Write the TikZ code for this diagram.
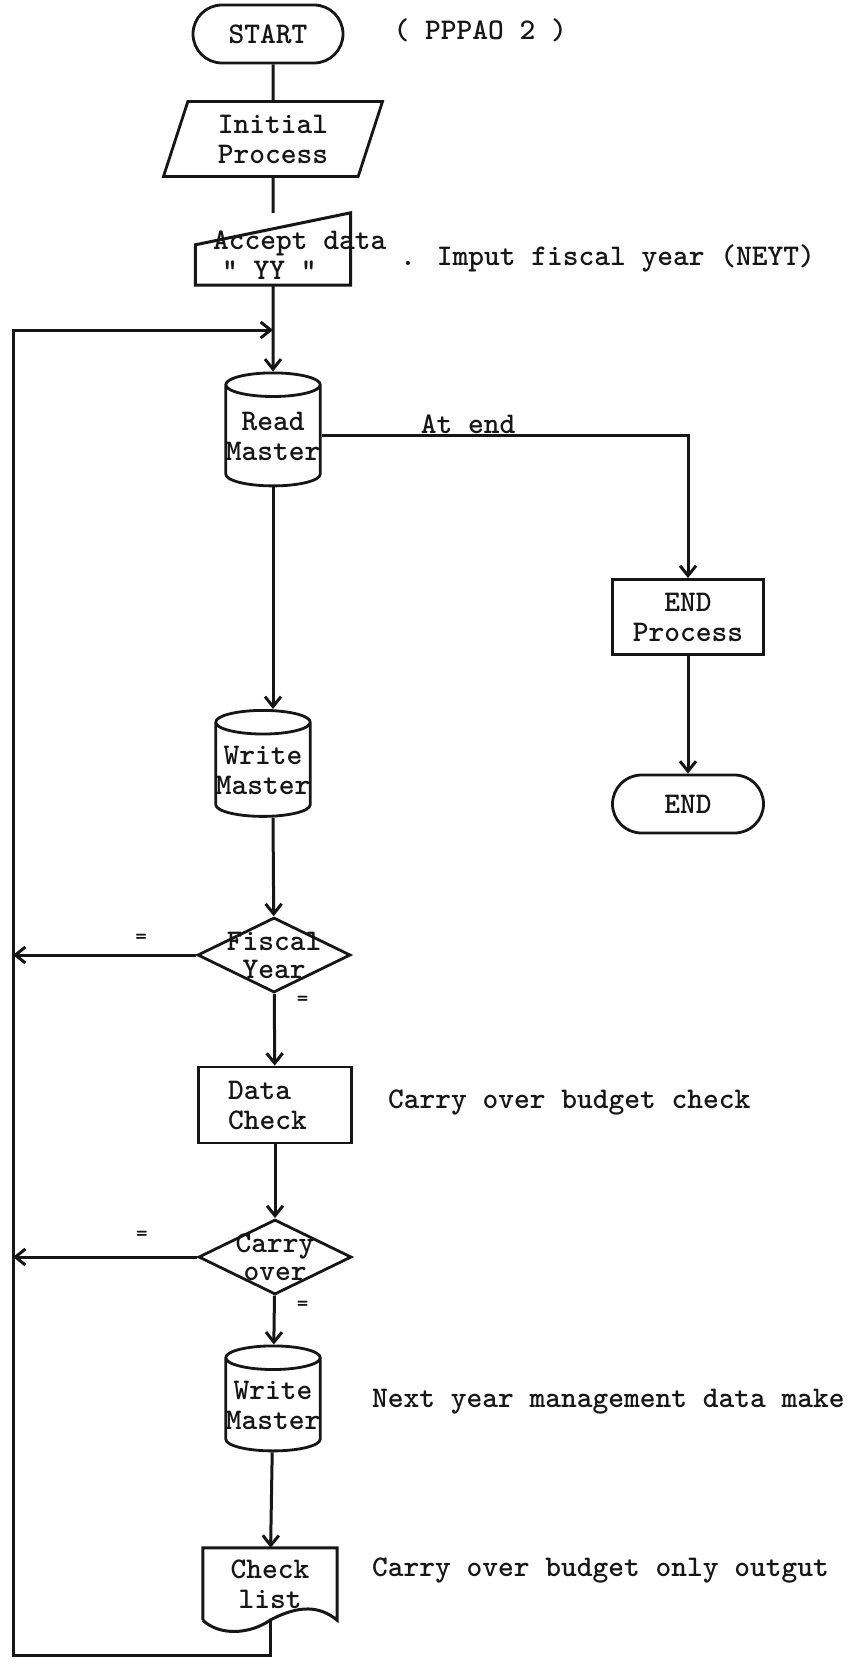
\documentclass[tikz,border=0pt]{standalone}
\usetikzlibrary{positioning,calc,shapes.geometric,arrows.meta}
\definecolor{Ink}{HTML}{161616}

\begin{document}
\begin{tikzpicture}[x=1pt,y=-1pt,
    font=\fontsize{30}{30}\selectfont\ttfamily\bfseries,
    every node/.style={text=Ink},
    box/.style={draw=Ink,line width=2.8pt,inner sep=0pt,align=center},
    terminal/.style={box,rounded corners=29pt,minimum width=150pt,minimum height=58pt},
    io/.style={box,trapezium,trapezium left angle=72,trapezium right angle=108,minimum width=155pt,minimum height=75pt},
    disk/.style={box,cylinder,shape border rotate=90,aspect=0.25,minimum width=91pt},
    proc/.style={box,rectangle,minimum width=153pt,minimum height=76pt},
    decision/.style={box,diamond,minimum width=153pt,minimum height=75pt},
    wire/.style={draw=Ink,line width=3pt},
    flow/.style={wire,-{Straight Barb[length=10pt,width=16pt]}},
    eq/.style={font=\fontsize{22}{22}\selectfont\ttfamily\bfseries,inner sep=0pt}]
  \useasboundingbox[fill=white] (0,0) rectangle (857,1667);

  % main column
  \node[terminal] (start) at (268,34) {START};
  \node[anchor=west] (tag) at (390,30) {( PPPAO 2 )};
  \node[io] (init) at (273,139) {Initial\\Process};
  \node[inner sep=0pt,minimum width=155pt,minimum height=72pt] (accept) at (273,249) {};
  \draw[wire] (accept.south west) -- (accept.south east) -- (accept.north east)
    -- ([yshift=-32pt]accept.north west) -- cycle;
  \node[anchor=west,align=left,inner sep=0pt] (accepttxt) at (213,255) {Accept data\\\hspace*{9pt}" YY "};
  \node[anchor=west,inner sep=0pt] (acceptnote) at (400,258) {. Imput fiscal year (NEYT)};

  \node[disk,minimum height=113pt] (read) at (273,436) {Read\\Master};
  \node[disk,minimum height=106pt] (write) at (263,770) {Write\\Master};
  \node[decision,label={[align=center]center:{Fiscal\\[-2pt]Year}}] (fiscal) at (274,955) {};
  \node[proc,text width=94pt,align=left] (datachk) at (275,1105) {Data\\Check};
  \node[anchor=west,inner sep=0pt] (datanote) at (388,1103) {Carry over budget check};
  \node[decision,label={[align=center]center:{Carry\\[-2pt]over}}] (carry) at (275,1257) {};
  \node[disk,minimum height=105pt] (write2) at (273,1405) {Write\\Master};
  \node[anchor=west,inner sep=0pt] (writenote) at (372,1402) {Next year management data make};
  \node[inner sep=0pt,align=center,minimum width=134pt,minimum height=72pt] (list) at (270,1584) {Check\\list};
  \draw[wire] (list.south west) -- (list.north west) -- (list.north east) -- (list.south east)
    .. controls +(-17,-14) and +(30,-16) .. (list.south)
    .. controls +(-20,14) and +(17,16) .. (list.south west);
  \node[anchor=west,inner sep=0pt] (listnote) at (372,1570) {Carry over budget only outgut};

  % end branch
  \node[proc,minimum width=151pt,minimum height=75pt] (endproc) at (688,617) {END\\Process};
  \node[terminal,minimum width=151pt] (endterm) at (688,804) {END};

  % loop back
  \coordinate (loopbot) at (13,1655);
  \coordinate (looptop) at (13,330);
  \coordinate (entry) at (273,330);

  \draw[wire] (init |- start.south) -- (init);
  \draw[wire] (init) -- (accept);
  \draw[flow] (accept) -- (read);
  \draw[flow] (read.east) -| node[pos=0.2,above,inner sep=1pt] {At end} (endproc);
  \draw[flow] (endproc) -- (endterm);
  \draw[flow] (read) -- (read |- write.north);
  \draw[flow] (read |- write.south) -- (fiscal);
  \draw[flow] (fiscal.west) -- node[pos=0.3,above=10pt,eq] {=} (fiscal.west -| loopbot);
  \draw[flow] (fiscal) -- node[pos=0.1,right=21pt,eq] {=} (datachk);
  \draw[flow] (datachk) -- (carry);
  \draw[flow] (carry.west) -- node[pos=0.3,above=15pt,eq] {=} (carry.west -| loopbot);
  \draw[flow] (carry) -- node[pos=0.2,right=21pt,eq] {=} (write2);
  \draw[flow] (write2) -- (list);
  \draw[flow] (list.south) |- (loopbot) -- (looptop) -- (entry);
\end{tikzpicture}
\end{document}
